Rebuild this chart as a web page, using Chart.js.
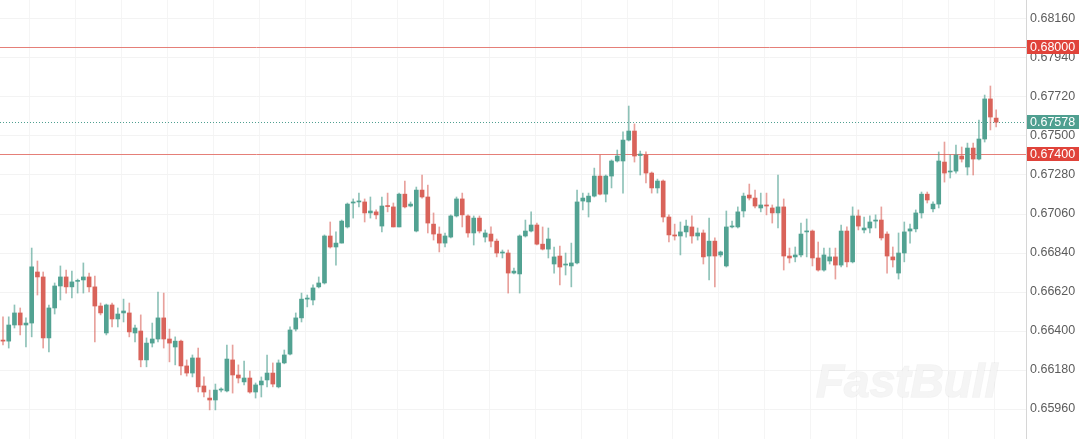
<!DOCTYPE html>
<html>
<head>
<meta charset="utf-8">
<script src="https://cdn.jsdelivr.net/npm/chart.js@4.4.1/dist/chart.umd.min.js"></script>
<style>
  html, body { margin: 0; padding: 0; background: #fff; }
  canvas { display: block; }
</style>
</head>
<body>
<canvas id="myChart" width="1080" height="439"></canvas>
<script>
// candle values, one entry per bar, left to right
const opens = [
    0.66349, 0.66343, 0.66434, 0.66502, 0.66434, 0.66445, 0.66733, 0.66705, 0.66361, 0.66530,
    0.66654, 0.66705, 0.66649, 0.66680, 0.66688, 0.66705, 0.66649, 0.66541, 0.66389, 0.66547,
    0.66468, 0.66502, 0.66502, 0.66389, 0.66400, 0.66237, 0.66332, 0.66355, 0.66474, 0.66355,
    0.66310, 0.66343, 0.66203, 0.66163, 0.66248, 0.66090, 0.66022, 0.66011, 0.66067, 0.66062,
    0.66237, 0.66152, 0.66113, 0.66135, 0.66056, 0.66096, 0.66124, 0.66163, 0.66085, 0.66220,
    0.66270, 0.66411, 0.66474, 0.66580, 0.66575, 0.66649, 0.66671, 0.66936, 0.66874, 0.66896,
    0.66987, 0.67122, 0.67128, 0.67128, 0.67066, 0.67072, 0.66992, 0.67105, 0.67100, 0.66987,
    0.67172, 0.67105, 0.66964, 0.67195, 0.67156, 0.67003, 0.66947, 0.66896, 0.66930, 0.67049,
    0.67145, 0.67049, 0.66953, 0.67037, 0.66930, 0.66947, 0.66907, 0.66840, 0.66840, 0.66727,
    0.66722, 0.66936, 0.66964, 0.66998, 0.66890, 0.66862, 0.66778, 0.66823, 0.66772, 0.66767,
    0.66784, 0.67133, 0.67128, 0.67161, 0.67274, 0.67172, 0.67274, 0.67359, 0.67359, 0.67477,
    0.67528, 0.67390, 0.67393, 0.67291, 0.67207, 0.67246, 0.67043, 0.66942, 0.66936, 0.66959,
    0.66987, 0.66936, 0.66953, 0.66823, 0.66907, 0.66829, 0.66767, 0.66987, 0.66987, 0.67077,
    0.67167, 0.67150, 0.67094, 0.67111, 0.67094, 0.67066, 0.67100, 0.66823, 0.66818, 0.66829,
    0.66959, 0.66964, 0.66812, 0.66744, 0.66795, 0.66818, 0.66772, 0.66964, 0.66790, 0.67049,
    0.66970, 0.66981, 0.67020, 0.67026, 0.66947, 0.66818, 0.66727, 0.66840, 0.66964, 0.66976,
    0.67066, 0.67172, 0.67089, 0.67116, 0.67353, 0.67297, 0.67302, 0.67387, 0.67325, 0.67432,
    0.67370, 0.67483, 0.67709, 0.67601
];
const highs = [
    0.66480, 0.66480, 0.66547, 0.66530, 0.66474, 0.66868, 0.66795, 0.66733, 0.66547, 0.66671,
    0.66767, 0.66744, 0.66738, 0.66693, 0.66784, 0.66727, 0.66710, 0.66558, 0.66552, 0.66558,
    0.66530, 0.66580, 0.66558, 0.66434, 0.66491, 0.66361, 0.66445, 0.66620, 0.66614, 0.66411,
    0.66367, 0.66349, 0.66237, 0.66265, 0.66304, 0.66141, 0.66067, 0.66101, 0.66079, 0.66321,
    0.66321, 0.66209, 0.66231, 0.66174, 0.66107, 0.66141, 0.66265, 0.66220, 0.66237, 0.66293,
    0.66423, 0.66502, 0.66614, 0.66603, 0.66660, 0.66705, 0.66942, 0.67015, 0.66959, 0.67026,
    0.67122, 0.67145, 0.67178, 0.67145, 0.67156, 0.67083, 0.67156, 0.67178, 0.67122, 0.67178,
    0.67246, 0.67128, 0.67212, 0.67280, 0.67223, 0.67066, 0.66987, 0.66953, 0.67055, 0.67156,
    0.67178, 0.67055, 0.67049, 0.67049, 0.66970, 0.66987, 0.66919, 0.66857, 0.66857, 0.66755,
    0.66942, 0.67026, 0.67072, 0.67009, 0.66987, 0.66981, 0.66874, 0.66879, 0.66840, 0.66896,
    0.67195, 0.67178, 0.67178, 0.67319, 0.67393, 0.67280, 0.67365, 0.67421, 0.67523, 0.67669,
    0.67568, 0.67415, 0.67410, 0.67297, 0.67257, 0.67252, 0.67055, 0.67003, 0.67015, 0.67026,
    0.67049, 0.66981, 0.66970, 0.67037, 0.66925, 0.66851, 0.67077, 0.67020, 0.67100, 0.67178,
    0.67229, 0.67195, 0.67178, 0.67178, 0.67111, 0.67280, 0.67145, 0.66868, 0.66874, 0.67009,
    0.67032, 0.66970, 0.66902, 0.66868, 0.66868, 0.66868, 0.66998, 0.66987, 0.67100, 0.67083,
    0.67043, 0.67049, 0.67055, 0.67100, 0.66959, 0.66874, 0.66953, 0.67015, 0.67003, 0.67083,
    0.67184, 0.67184, 0.67128, 0.67410, 0.67466, 0.67393, 0.67449, 0.67438, 0.67460, 0.67460,
    0.67590, 0.67731, 0.67782, 0.67647
];
const lows = [
    0.66321, 0.66304, 0.66417, 0.66378, 0.66310, 0.66367, 0.66603, 0.66304, 0.66282, 0.66496,
    0.66575, 0.66614, 0.66586, 0.66614, 0.66614, 0.66620, 0.66338, 0.66491, 0.66378, 0.66423,
    0.66423, 0.66451, 0.66367, 0.66338, 0.66198, 0.66198, 0.66310, 0.66338, 0.66304, 0.66226,
    0.66209, 0.66152, 0.66146, 0.66141, 0.66056, 0.66028, 0.65955, 0.65955, 0.66056, 0.66056,
    0.66050, 0.66107, 0.66096, 0.66050, 0.66022, 0.66028, 0.66085, 0.66085, 0.66079, 0.66215,
    0.66265, 0.66400, 0.66451, 0.66536, 0.66547, 0.66643, 0.66665, 0.66868, 0.66772, 0.66896,
    0.66981, 0.67037, 0.67100, 0.67015, 0.67037, 0.67032, 0.66959, 0.67072, 0.66987, 0.66987,
    0.67094, 0.67100, 0.66959, 0.67150, 0.66953, 0.66913, 0.66846, 0.66874, 0.66925, 0.67043,
    0.66987, 0.66930, 0.66885, 0.66953, 0.66902, 0.66874, 0.66818, 0.66812, 0.66614, 0.66722,
    0.66614, 0.66930, 0.66959, 0.66885, 0.66857, 0.66812, 0.66727, 0.66660, 0.66716, 0.66649,
    0.66778, 0.67083, 0.67043, 0.67156, 0.67167, 0.67128, 0.67207, 0.67353, 0.67178, 0.67472,
    0.67353, 0.67280, 0.67235, 0.67178, 0.67178, 0.67015, 0.66902, 0.66913, 0.66829, 0.66930,
    0.66896, 0.66913, 0.66778, 0.66688, 0.66649, 0.66818, 0.66761, 0.66981, 0.66981, 0.67043,
    0.67139, 0.67094, 0.67072, 0.67055, 0.67009, 0.66981, 0.66744, 0.66784, 0.66790, 0.66818,
    0.66818, 0.66767, 0.66738, 0.66738, 0.66778, 0.66693, 0.66761, 0.66761, 0.66784, 0.66970,
    0.66953, 0.66953, 0.66981, 0.66913, 0.66727, 0.66761, 0.66693, 0.66790, 0.66896, 0.66959,
    0.67037, 0.67122, 0.67072, 0.67094, 0.67240, 0.67263, 0.67291, 0.67353, 0.67280, 0.67280,
    0.67365, 0.67466, 0.67534, 0.67551
];
const closes = [
    0.66343, 0.66434, 0.66502, 0.66434, 0.66445, 0.66762, 0.66705, 0.66361, 0.66530, 0.66654,
    0.66705, 0.66649, 0.66677, 0.66682, 0.66705, 0.66649, 0.66541, 0.66502, 0.66547, 0.66468,
    0.66496, 0.66513, 0.66395, 0.66417, 0.66237, 0.66332, 0.66355, 0.66474, 0.66355, 0.66332,
    0.66343, 0.66203, 0.66163, 0.66248, 0.66085, 0.66056, 0.66011, 0.66067, 0.66073, 0.66242,
    0.66152, 0.66135, 0.66135, 0.66056, 0.66096, 0.66118, 0.66163, 0.66101, 0.66220, 0.66265,
    0.66406, 0.66474, 0.66580, 0.66586, 0.66643, 0.66671, 0.66936, 0.66874, 0.66896, 0.67020,
    0.67116, 0.67128, 0.67133, 0.67066, 0.67077, 0.67055, 0.67105, 0.67102, 0.66987, 0.67172,
    0.67100, 0.67116, 0.67195, 0.67156, 0.67009, 0.66947, 0.66896, 0.66936, 0.67049, 0.67145,
    0.67055, 0.66953, 0.67037, 0.66964, 0.66953, 0.66907, 0.66840, 0.66843, 0.66727, 0.66738,
    0.66936, 0.66964, 0.66998, 0.66890, 0.66862, 0.66919, 0.66818, 0.66761, 0.66778, 0.66784,
    0.67128, 0.67150, 0.67161, 0.67274, 0.67172, 0.67274, 0.67359, 0.67387, 0.67477, 0.67528,
    0.67387, 0.67398, 0.67291, 0.67207, 0.67246, 0.67043, 0.66942, 0.66936, 0.66959, 0.66992,
    0.66936, 0.66953, 0.66818, 0.66907, 0.66823, 0.66846, 0.66987, 0.66992, 0.67072, 0.67161,
    0.67150, 0.67105, 0.67111, 0.67105, 0.67066, 0.67100, 0.66823, 0.66812, 0.66829, 0.66947,
    0.66964, 0.66812, 0.66744, 0.66829, 0.66818, 0.66772, 0.66964, 0.66790, 0.67049, 0.66992,
    0.66981, 0.67015, 0.67026, 0.66925, 0.66823, 0.66801, 0.66840, 0.66959, 0.66976, 0.67066,
    0.67172, 0.67139, 0.67116, 0.67359, 0.67291, 0.67302, 0.67393, 0.67370, 0.67432, 0.67370,
    0.67483, 0.67709, 0.67607, 0.67578
];

// price axis labels
const yTicks = [0.65960, 0.66180, 0.66400, 0.66620, 0.66840, 0.67060, 0.67280, 0.67500, 0.67720, 0.67940, 0.68160];

// horizontal levels drawn across the chart, with their boxes on the axis
const levelValues = [0.68000, 0.67400, 0.67578];
const levelKinds = ['resist', 'resist', 'last'];

const GREEN = '#52a292';
const RED = '#d9635a';
const GREEN_WICK = 'rgba(82,162,146,0.65)';
const RED_WICK = 'rgba(217,99,90,0.6)';
const FONT = '"Liberation Sans", Arial, sans-serif';

const bodies = opens.map((o, i) => ({ x: i, y: [o, closes[i]] }));
const wicks = lows.map((l, i) => ({ x: i, y: [l, highs[i]] }));
const up = opens.map((o, i) => closes[i] >= o);

const levelsPlugin = {
    id: 'levels',
    beforeDatasetsDraw(chart) {
        const { ctx, chartArea, scales: { y } } = chart;
        ctx.save();
        levelValues.forEach((v, i) => {
            const py = Math.round(y.getPixelForValue(v)) + 0.5;
            ctx.beginPath();
            if (levelKinds[i] === 'last') {
                ctx.strokeStyle = '#4f9f90';
                ctx.setLineDash([1, 2]);
            } else {
                ctx.strokeStyle = '#e57f78';
                ctx.setLineDash([]);
            }
            ctx.lineWidth = 1;
            ctx.moveTo(chartArea.left, py);
            ctx.lineTo(chartArea.right, py);
            ctx.stroke();
        });
        ctx.restore();
    },
    afterDraw(chart) {
        const { ctx, chartArea, scales: { y } } = chart;
        ctx.save();
        // watermark
        ctx.font = 'italic bold 46px ' + FONT;
        ctx.textBaseline = 'alphabetic';
        ctx.textAlign = 'left';
        ctx.fillStyle = 'rgba(244,244,244,0.9)';
        ctx.strokeStyle = 'rgba(0,0,0,0.05)';
        ctx.lineWidth = 1.5;
        ctx.strokeText('FastBull', 816, 397);
        ctx.fillText('FastBull', 816, 397);

        levelValues.forEach((v, i) => {
            const py = y.getPixelForValue(v);
            ctx.fillStyle = levelKinds[i] === 'last' ? '#4f9f90' : '#e0433a';
            ctx.fillRect(chartArea.right + 1, Math.round(py - 7), 52, 14);
            ctx.fillStyle = '#fff';
            ctx.font = '12.5px ' + FONT;
            ctx.textBaseline = 'middle';
            ctx.fillText(v.toFixed(5), chartArea.right + 4, py + 0.5);
        });
        ctx.restore();
    }
};

const ctx = document.getElementById('myChart').getContext('2d');

const chart = new Chart(ctx, {
    type: 'bar',
    data: {
        datasets: [
            {
                label: 'body',
                data: bodies,
                backgroundColor: up.map(u => u ? GREEN : RED),
                barThickness: 4,
                minBarLength: 1,
                grouped: false,
                order: 0
            },
            {
                label: 'wick',
                data: wicks,
                backgroundColor: up.map(u => u ? GREEN_WICK : RED_WICK),
                barThickness: 1,
                grouped: false,
                order: 1
            }
        ]
    },
    options: {
        responsive: false,
        animation: false,
        layout: { padding: 0 },
        plugins: {
            legend: { display: false },
            tooltip: { enabled: false }
        },
        scales: {
            x: {
                type: 'linear',
                offset: false,
                min: -0.52,
                max: 178.2,
                border: { display: false },
                grid: { color: '#f5f5f5', drawTicks: false, offset: false },
                ticks: { display: false },
                afterBuildTicks: (scale) => {
                    const t = [];
                    for (let v = 4.7; v < 178; v += 8) t.push({ value: v });
                    scale.ticks = t;
                },
                afterFit: (scale) => {
                    scale.height = 0;
                    scale.paddingLeft = 0;
                    scale.paddingRight = 0;
                }
            },
            y: {
                position: 'right',
                min: 0.65791,
                max: 0.68267,
                border: { display: true, color: '#d6d6d6' },
                grid: { color: '#f3f3f3', drawTicks: false },
                ticks: {
                    padding: 4,
                    color: '#5c5c5c',
                    font: { size: 12.5, family: FONT },
                    callback: v => Number(v).toFixed(5)
                },
                afterBuildTicks: (scale) => {
                    scale.ticks = yTicks.map(v => ({ value: v }));
                },
                afterFit: (scale) => {
                    scale.width = 54;
                    scale.paddingTop = 0;
                    scale.paddingBottom = 0;
                }
            }
        }
    },
    plugins: [levelsPlugin]
});
</script>
</body>
</html>
